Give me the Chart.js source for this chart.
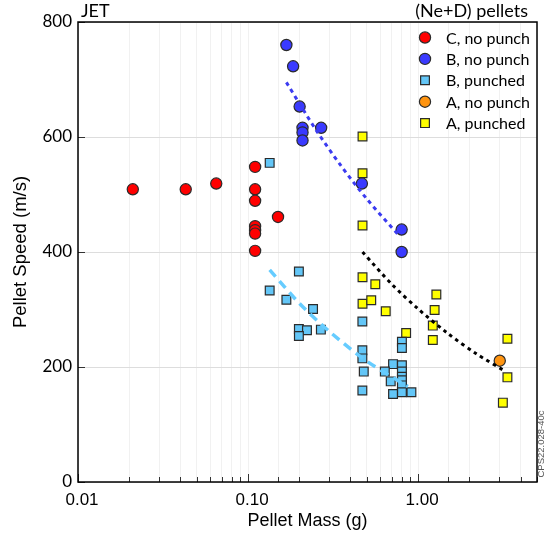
<!DOCTYPE html>
<html>
<head>
<meta charset="utf-8">
<title>Pellet speed vs mass</title>
<script src="https://cdn.jsdelivr.net/npm/chart.js@4.4.0/dist/chart.umd.min.js"></script>
<style>
  html, body { margin: 0; padding: 0; background: #fff; }
</style>
</head>
<body>
<canvas id="speedChart" width="549" height="533"></canvas>
<script>
// pellet mass (g) / speed (m/s) per pellet type
const cNoPunchMass  = [0.021, 0.043, 0.065, 0.11, 0.11, 0.11, 0.15, 0.11, 0.11, 0.11, 0.11];
const cNoPunchSpeed = [509, 509, 519, 548, 509, 489, 461, 445, 438, 432, 402];

const bNoPunchMass  = [0.168, 0.184, 0.201, 0.209, 0.209, 0.209, 0.269, 0.467, 0.80, 0.80];
const bNoPunchSpeed = [760, 723, 653, 616, 608, 594, 616, 519, 439, 400];

const bPunchedMass  = [0.134, 0.199, 0.134, 0.168, 0.241, 0.199, 0.222, 0.199, 0.268,
                       0.47, 0.47, 0.47, 0.479, 0.47, 0.712, 0.637, 0.69,
                       0.803, 0.803, 0.803, 0.803, 0.803, 0.803, 0.803, 0.803, 0.712, 0.913];
const bPunchedSpeed = [555, 366, 333, 317, 301, 266, 264, 254, 265,
                       279, 229, 215, 192, 159, 205, 192, 175,
                       244, 233, 203, 192, 183, 177, 168, 156, 153, 156];

const aNoPunchMass  = [3.02];
const aNoPunchSpeed = [211];

const aPunchedMass  = [0.471, 0.471, 0.471, 0.471, 0.56, 0.471, 0.53, 0.645, 0.85,
                       1.22, 1.22, 1.25, 1.28, 3.35, 3.35, 3.15];
const aPunchedSpeed = [601, 537, 446, 356, 344, 310, 316, 297, 259,
                       272, 247, 299, 326, 249, 182, 138];

// trend curves
const bTrendMass   = [0.168, 0.25, 0.35, 0.5, 0.78];
const bTrendSpeed  = [695, 613, 551, 492, 427];
const bpTrendMass  = [0.134, 0.2, 0.3, 0.5, 0.87];
const bpTrendSpeed = [369, 311, 262, 210, 166];
const aTrendMass   = [0.471, 0.7, 1.0, 1.5, 2.2, 3.23];
const aTrendSpeed  = [400, 344, 301, 258, 223, 193];

const speedTicks = [0, 200, 400, 600, 800];

const toPoints = (xs, ys) => xs.map((x, i) => ({ x: x, y: ys[i] }));

function markers(label, xs, ys, style, fill) {
    return {
        label: label,
        data: toPoints(xs, ys),
        pointStyle: style,
        pointRadius: style === 'rect' ? 6.2 : 5.6,
        pointHoverRadius: style === 'rect' ? 6.2 : 5.6,
        backgroundColor: fill,
        borderColor: '#2b2b2b',
        borderWidth: 1.2,
        order: 1
    };
}

function trend(xs, ys, color, dash, width) {
    return {
        label: '',
        data: toPoints(xs, ys),
        showLine: true,
        pointRadius: 0,
        borderColor: color,
        borderWidth: width,
        borderDash: dash,
        tension: 0.3,
        order: 0
    };
}

// frame and inward tick marks
const frame = {
    id: 'frame',
    beforeDatasetsDraw(chart) {
        const ctx = chart.ctx;
        const a = chart.chartArea;
        const xs = chart.scales.x;
        const ys = chart.scales.y;
        ctx.save();
        ctx.strokeStyle = '#333';
        ctx.lineWidth = 1;
        xs.ticks.forEach(t => {
            const px = Math.round(xs.getPixelForValue(t.value)) + 0.5;
            const major = Math.abs(Math.log10(t.value) - Math.round(Math.log10(t.value))) < 1e-6;
            ctx.beginPath();
            ctx.moveTo(px, a.bottom);
            ctx.lineTo(px, a.bottom - (major ? 8 : 5));
            ctx.stroke();
        });
        speedTicks.forEach(v => {
            const py = Math.round(ys.getPixelForValue(v)) + 0.5;
            ctx.beginPath();
            ctx.moveTo(a.left, py);
            ctx.lineTo(a.left + 7, py);
            ctx.stroke();
        });
        ctx.strokeStyle = '#000';
        ctx.lineWidth = 1.5;
        ctx.strokeRect(a.left, a.top, a.right - a.left, a.bottom - a.top);
        ctx.restore();
    }
};

// legend box inside the plot plus corner captions
const captions = {
    id: 'captions',
    afterDraw(chart) {
        const ctx = chart.ctx;
        const a = chart.chartArea;
        ctx.save();
        ctx.textBaseline = 'middle';
        ctx.fillStyle = '#000';
        ctx.font = '18px Lato';
        ctx.textAlign = 'left';
        ctx.fillText('JET', a.left + 3, 11);
        ctx.textAlign = 'right';
        ctx.fillText('(Ne+D) pellets', a.right - 9, 11);

        ctx.font = '16px Lato';
        ctx.textAlign = 'left';
        let y = a.top + 15.5;
        chart.data.datasets.forEach(ds => {
            if (ds.showLine) return;
            ctx.fillStyle = ds.backgroundColor;
            ctx.strokeStyle = ds.borderColor;
            ctx.lineWidth = ds.borderWidth;
            Chart.helpers.drawPoint(ctx, {
                pointStyle: ds.pointStyle,
                radius: ds.pointRadius,
                borderWidth: ds.borderWidth,
                rotation: 0
            }, a.right - 112, y);
            ctx.fillStyle = '#000';
            ctx.fillText(ds.label, a.right - 91, y + 1);
            y += 21.4;
        });

        ctx.translate(541, 444);
        ctx.rotate(-Math.PI / 2);
        ctx.font = '9.5px "Liberation Sans"';
        ctx.textAlign = 'center';
        ctx.fillStyle = '#555';
        ctx.fillText('CPS22.028-40c', 0, 0);
        ctx.restore();
    }
};

const ctxSpeed = document.getElementById('speedChart').getContext('2d');
const speedChart = new Chart(ctxSpeed, {
    type: 'scatter',
    data: {
        datasets: [
            markers('C, no punch', cNoPunchMass, cNoPunchSpeed, 'circle', '#ff0000'),
            markers('B, no punch', bNoPunchMass, bNoPunchSpeed, 'circle', '#3a3aff'),
            markers('B, punched', bPunchedMass, bPunchedSpeed, 'rect', '#63c6f7'),
            markers('A, no punch', aNoPunchMass, aNoPunchSpeed, 'circle', '#ff9410'),
            markers('A, punched', aPunchedMass, aPunchedSpeed, 'rect', '#ffff00'),
            trend(bTrendMass, bTrendSpeed, '#3b3bf0', [4, 4], 3),
            trend(bpTrendMass, bpTrendSpeed, '#66ccff', [9, 6], 3.5),
            trend(aTrendMass, aTrendSpeed, '#000000', [3.5, 4], 3)
        ]
    },
    options: {
        responsive: false,
        animation: false,
        layout: { padding: { left: 0, right: 12, top: 22, bottom: 0 } },
        scales: {
            x: {
                type: 'logarithmic',
                min: 0.01,
                max: 5,
                grid: { color: '#f1f1f1', drawTicks: false },
                border: { display: false },
                ticks: {
                    autoSkip: false,
                    maxRotation: 0,
                    padding: 8,
                    labelOffset: 4,
                    color: '#000',
                    font: { family: 'Liberation Sans', size: 17 },
                    callback: function (value) {
                        const lg = Math.log10(value);
                        return Math.abs(lg - Math.round(lg)) < 1e-6 ? Number(value).toFixed(2) : '';
                    }
                },
                title: {
                    display: true,
                    text: 'Pellet Mass (g)',
                    color: '#000',
                    font: { family: 'Liberation Sans', size: 18 },
                    padding: { top: 0, bottom: 1 }
                },
                afterFit: function (scale) {
                    scale.height = 51;
                    scale.paddingLeft = 0;
                    scale.paddingRight = 0;
                }
            },
            y: {
                min: 0,
                max: 800,
                grid: { color: '#dddddd', drawTicks: false },
                border: { display: false },
                afterBuildTicks: function (scale) {
                    scale.ticks = speedTicks.map(v => ({ value: v }));
                },
                ticks: {
                    padding: 6,
                    color: '#000',
                    font: { family: 'Lato', size: 17 }
                },
                title: {
                    display: true,
                    text: 'Pellet Speed (m/s)',
                    color: '#000',
                    font: { family: 'Liberation Sans', size: 18.5 },
                    padding: { top: 10, bottom: 0 }
                },
                afterFit: function (scale) {
                    scale.width = 78;
                    scale.paddingTop = 0;
                    scale.paddingBottom = 0;
                }
            }
        },
        plugins: {
            legend: { display: false },
            tooltip: { enabled: false }
        }
    },
    plugins: [frame, captions]
});
</script>
</body>
</html>
